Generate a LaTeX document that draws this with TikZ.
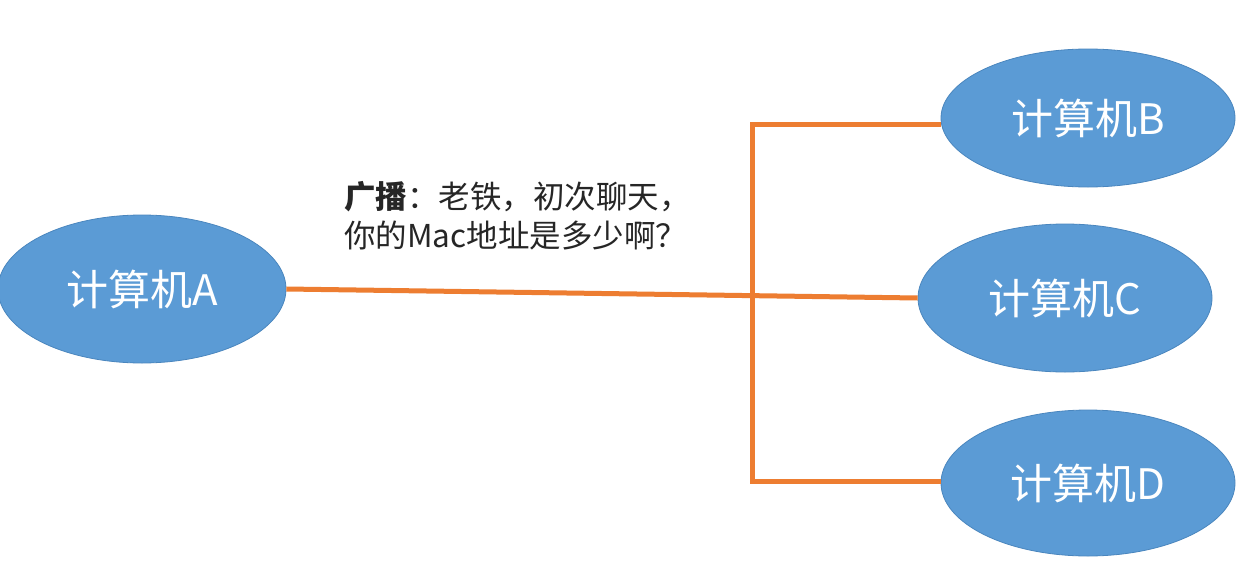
\documentclass[tikz,border=0pt]{standalone}
\usepackage{fontspec}
\setmainfont{Noto Sans CJK SC}
\usetikzlibrary{shapes.geometric}
\definecolor{nodeblue}{HTML}{5B9BD5}
\definecolor{nodeedge}{HTML}{4A86BE}
\definecolor{wire}{HTML}{ED7D31}
\tikzset{
  pc/.style={ellipse, fill=nodeblue, draw=nodeedge, line width=0.8pt, inner sep=0pt,
    minimum width=294pt, minimum height=142pt, text=white,
    font=\fontsize{42}{50}\selectfont},
  wireline/.style={draw=wire, line width=5pt},
  note/.style={anchor=north west, align=left, inner sep=0pt, text=black!85,
    font=\fontsize{31.5}{39}\selectfont}
}
\begin{document}
\begin{tikzpicture}[x=1pt,y=-1pt]
\fill[white] (0,0) rectangle (1242,565);
\useasboundingbox (0,0) rectangle (1242,565);
\node[pc, minimum width=288pt, minimum height=148pt] (A) at (142,289) {计算机A};
\node[pc, minimum height=138pt] (B) at (1088,118) {计算机B};
\node[pc, minimum height=148pt] (C) at (1065,298) {计算机C};
\node[pc, minimum height=146pt] (D) at (1088,483) {计算机D};
\coordinate (jt) at (752,124);
\coordinate (jb) at (752,481);
\draw[wireline] (A.east) -- (C.west);
\draw[wireline, line cap=rect] (jt) -- (jb);
\draw[wireline] (jt) -- (jt -| B.west);
\draw[wireline] (jb) -- (jb -| D.west);
\node[note] (msg) at (344,181) {\textbf{广播}：老铁，初次聊天，\\你的Mac地址是多少啊？};
\end{tikzpicture}
\end{document}
